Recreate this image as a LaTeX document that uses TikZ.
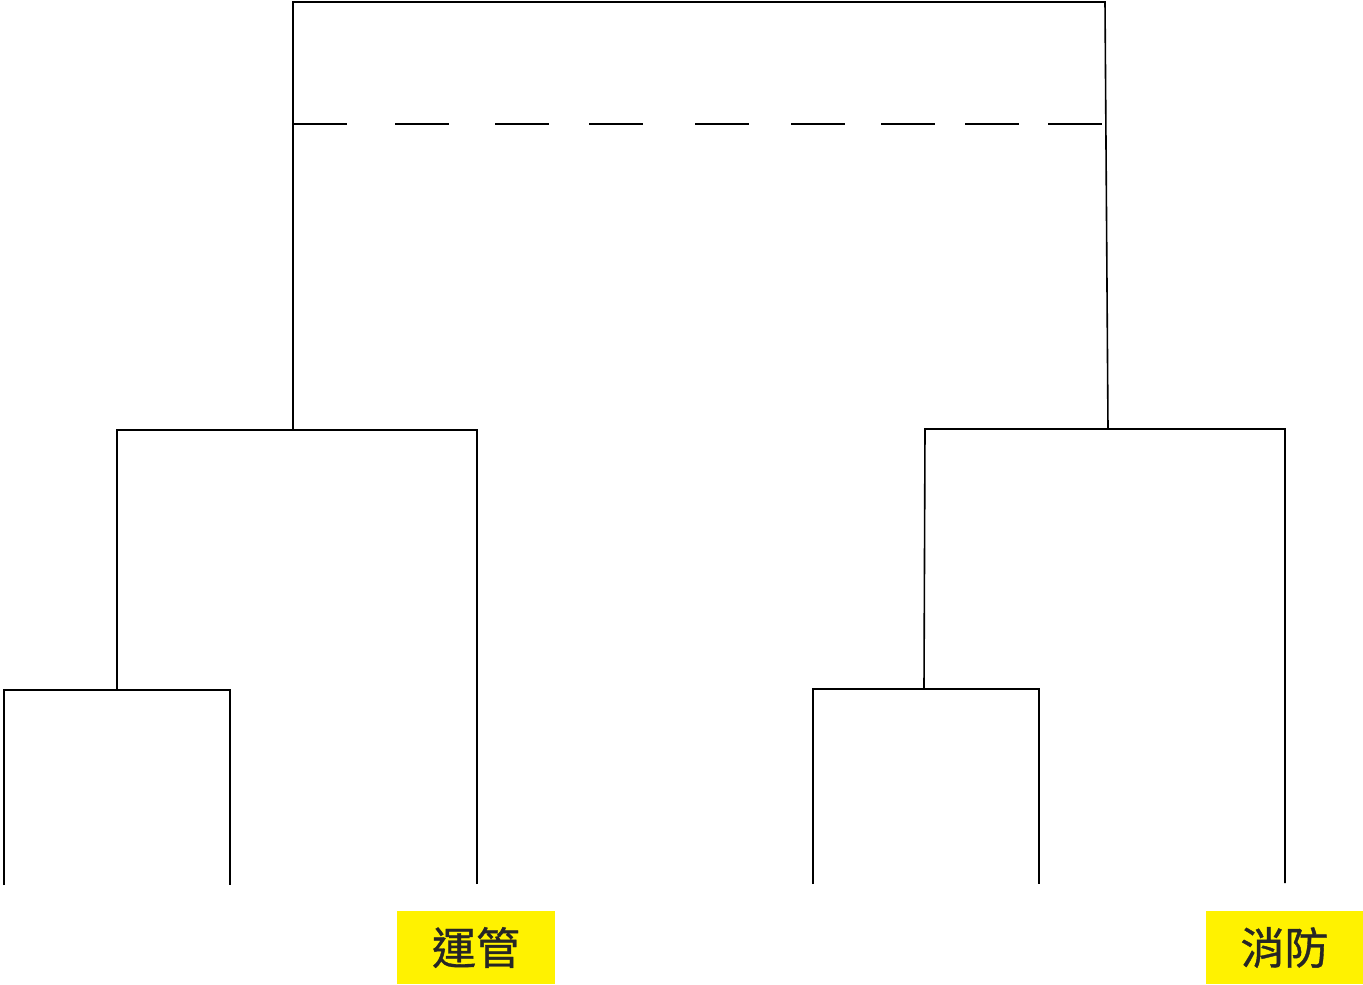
\documentclass[tikz,border=0pt]{standalone}
\usepackage{fontspec}
\newfontfamily\cjk[FakeBold=0.8]{Noto Sans CJK TC}
\tikzset{
  link/.style={line width=1.6pt},
  tag/.style={fill=yellow,text=black!85,font=\cjk\fontsize{44}{48}\selectfont,
    minimum width=158pt,minimum height=73pt,inner sep=0pt}
}
\begin{document}
\begin{tikzpicture}[x=1pt,y=-1pt]
    \useasboundingbox (0,0) rectangle (1363,985);
    % joins
    \coordinate (topL) at (293,2);
    \coordinate (topR) at (1105,2);
    \coordinate (jL) at (293,430);
    \coordinate (jR) at (1108,429);
    \coordinate (aL) at (117,430);
    \coordinate (aR) at (477,430);
    \coordinate (bL) at (925,429);
    \coordinate (bR) at (1285,429);
    \coordinate (cL) at (4,690);
    \coordinate (cR) at (230,690);
    \coordinate (cM) at (117,689);
    \coordinate (dL) at (813,689);
    \coordinate (dR) at (1039,689);
    \coordinate (dM) at (924,688);
    % leaves
    \coordinate (l1) at (4,885);
    \coordinate (l2) at (230,885);
    \coordinate (l3) at (477,884);
    \coordinate (l4) at (813,884);
    \coordinate (l5) at (1039,884);
    \coordinate (l6) at (1285,883);
    \draw[link] (jL) -- (topL) -- (topR) -- (jR);
    \draw[link] (l3) -- (aR) -- (aL) -- (cM);
    \draw[link] (l1) -- (cL) -- (cR) -- (l2);
    \draw[link] (l6) -- (bR) -- (bL) -- (dM);
    \draw[link] (l4) -- (dL) -- (dR) -- (l5);
    % cut line
    \foreach \x in {293,395,495,589,695,791,881,965,1048}
        \draw[link] (\x,124) -- ++(54,0);
    \node[tag] (yun) at (476,947.5) {運管};
    \node[tag,minimum width=157pt] (xiao) at (1284.5,947.5) {消防};
\end{tikzpicture}
\end{document}
